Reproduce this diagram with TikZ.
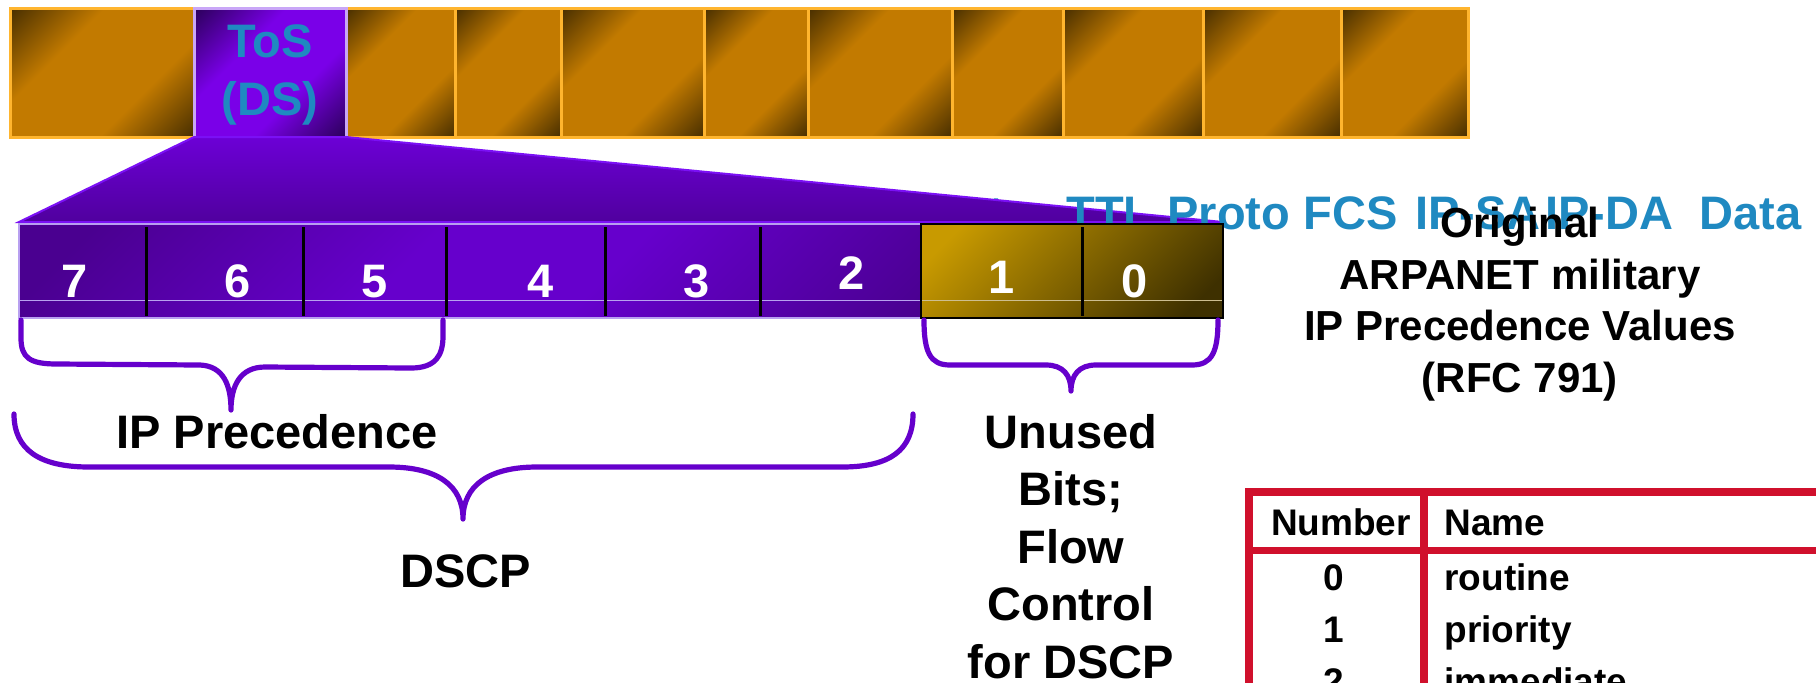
\documentclass[tikz,border=0pt]{standalone}
\usepackage{fontspec}
\setmainfont{Liberation Sans}
\usepackage{xcolor}
\usepackage{tikz}
\usetikzlibrary{positioning}

\definecolor{hdrgold}{HTML}{C27A00}
\definecolor{hdrdark}{HTML}{4A3000}
\definecolor{hdredge}{HTML}{FFB52E}
\definecolor{tosbright}{HTML}{7A00E8}
\definecolor{tosdark}{HTML}{2C005C}
\definecolor{tosedge}{HTML}{C9A6F7}
\definecolor{fieldblue}{HTML}{1F89C1}
\definecolor{bitpurple}{HTML}{6600CC}
\definecolor{bitdark}{HTML}{4A0090}
\definecolor{bitline}{HTML}{B8A0F0}
\definecolor{bitgold}{HTML}{C89A00}
\definecolor{bitbrown}{HTML}{3E3000}
\definecolor{goldline}{HTML}{CDBE90}
\definecolor{fantop}{HTML}{6C00D6}
\definecolor{fanbot}{HTML}{50009E}
\definecolor{fanedge}{HTML}{7B10F5}
\definecolor{tablered}{HTML}{D0102C}

% diagonal bands: dark corners, bright middle
\pgfdeclarehorizontalshading{hdrband}{100bp}{color(0bp)=(hdrdark); color(15bp)=(hdrdark);
  color(36bp)=(hdrgold); color(64bp)=(hdrgold); color(85bp)=(hdrdark); color(100bp)=(hdrdark)}
\pgfdeclarehorizontalshading{tosband}{100bp}{color(0bp)=(tosdark); color(15bp)=(tosdark);
  color(38bp)=(tosbright); color(62bp)=(tosbright); color(85bp)=(tosdark); color(100bp)=(tosdark)}
\pgfdeclarehorizontalshading{bitband}{100bp}{color(0bp)=(bitdark); color(20bp)=(bitdark);
  color(45bp)=(bitpurple); color(60bp)=(bitpurple); color(85bp)=(bitdark); color(100bp)=(bitdark)}
\pgfdeclarehorizontalshading{bitramp}{100bp}{color(0bp)=(bitgold); color(22bp)=(bitgold);
  color(78bp)=(bitbrown); color(100bp)=(bitbrown)}

\newcommand{\bigbold}{\fontsize{23.5}{28.75}\selectfont\bfseries}
\newcommand{\notebold}{\fontsize{21}{25.75}\selectfont\bfseries}
\newcommand{\tablebold}{\fontsize{18.5}{26}\selectfont\bfseries}

\tikzset{
  hdrcell/.style  = {shading=hdrband, shading angle=-45, draw=hdredge, line width=1.5pt},
  toscell/.style  = {shading=tosband, shading angle=-45, draw=tosedge, line width=1.5pt},
  fieldlbl/.style = {text=fieldblue, anchor=base west},
  bitlbl/.style   = {text=white, anchor=base},
  divider/.style  = {black, line width=1.5pt},
  curly/.style    = {draw=bitpurple, line width=2.6pt, line cap=round, line join=round},
  tabline/.style  = {draw=tablered, line width=3.8pt},
  tabtxt/.style   = {font=\tablebold, anchor=base},
}

\begin{document}
\begin{tikzpicture}[x=0.5pt, y=-0.5pt, every node/.style={inner sep=0pt, font=\bigbold}]
    \useasboundingbox[fill=white] (0,0) rectangle (1816,682);
    \clip (0,0) rectangle (1816,682);

    % first field name goes under the fan
    \node[fieldlbl] (f-Offset) at (868,229) {Offset};

    % IP header fields
    \foreach \a/\b in {10/194, 346/455, 455/561, 561/704, 704/808, 808/952,
                       952/1063, 1063/1203, 1203/1341, 1341/1468}
        \shadedraw[hdrcell] (\a,8) rectangle (\b,137);
    \shadedraw[toscell] (194,8) rectangle (346,137);
    \node[text=fieldblue, align=center, anchor=base] (tos) at (270,115) {ToS\\(DS)};

    % ToS byte opened up
    \shadedraw[top color=fantop, bottom color=fanbot, draw=fanedge, line width=1pt]
        (194,137) -- (346,137) -- (1223,222) -- (19,222) -- cycle;

    % remaining field names
    \foreach \x/\f in {1066/TTL, 1167/Proto, 1303/FCS, 1415/IP-SA, 1545/IP-DA, 1699/Data}
        \node[fieldlbl] (f-\f) at (\x,229) {\f};

    % Bits 7..2
    \shade[shading=bitband, shading angle=-45] (19,224) rectangle (921,318);
    \draw[bitline, line width=0.8pt] (19,224) rectangle (921,318);
    \draw[bitline, line width=0.5pt] (19,300) -- (921,300);
    % Bits 1..0
    \shade[shading=bitramp, shading angle=-45] (921,224) rectangle (1223,318);
    \draw[goldline, line width=0.5pt] (921,300) -- (1223,300);
    \draw[black, line width=1.2pt] (921,224) rectangle (1223,318);
    \foreach \x in {146,303,446,605,760,1082}
        \draw[divider] (\x,227) -- (\x,316);

    \foreach \x/\y/\b in {75/297/7, 238/297/6, 375/297/5, 541/297/4,
                          697/297/3, 852/289/2, 1002/293/1, 1135/297/0}
        \node[bitlbl] (bit\b) at (\x,\y) {\b};

    % Braces
    \draw[curly] (21,320) -- (21,338) .. controls (21,358) and (30,364) .. (57,364)
        -- (200,365) .. controls (224,366) and (231,386) .. (231,410)
        .. controls (231,386) and (240,367) .. (265,367)
        -- (411,368) .. controls (436,368) and (443,355) .. (443,336) -- (443,320);
    \draw[curly] (14,414) .. controls (14,450) and (40,467) .. (89,467)
        -- (389,467) .. controls (438,467) and (463,486) .. (463,519)
        .. controls (463,486) and (488,467) .. (537,467)
        -- (842,467) .. controls (890,467) and (913,450) .. (913,414);
    \draw[curly] (924,320) .. controls (924,352) and (930,365) .. (950,365)
        -- (1046,365) .. controls (1063,365) and (1071,375) .. (1071,391)
        .. controls (1071,375) and (1079,365) .. (1096,365)
        -- (1192,365) .. controls (1212,365) and (1218,352) .. (1218,320);

    \node[anchor=base] (prec) at (277,448) {IP Precedence};
    \node[anchor=base] (dscp) at (466,587) {DSCP};
    % base of a multi-line node is its last line
    \node[anchor=base, align=center] (unused) at (1071,678)
        {Unused\\Bits;\\Flow\\Control\\for DSCP};

    % RFC 791 note
    \node[anchor=base, align=center, font=\notebold] (orig) at (1520,392)
        {Original\\ARPANET military\\IP Precedence Values\\(RFC 791)};

    % precedence table
    \draw[tabline] (1249,488) -- (1249,700);
    \draw[tabline] (1245,492) -- (1830,492);
    \draw[tabline] (1249,550.5) -- (1830,550.5);
    \draw[tabline] (1424,492) -- (1424,700);
    \node[tabtxt] (numhd) at (1341,535) {Number};
    \node[tabtxt, anchor=base west] (namehd) at (1444,535) {Name};
    \foreach \n/\t/\y in {0/routine/590, 1/priority/642, 2/immediate/694} {
        \node[tabtxt] (num\n) at (1334,\y) {\n};
        \node[tabtxt, anchor=base west] (name\n) at (1444,\y) {\t};
    }

\end{tikzpicture}
\end{document}
